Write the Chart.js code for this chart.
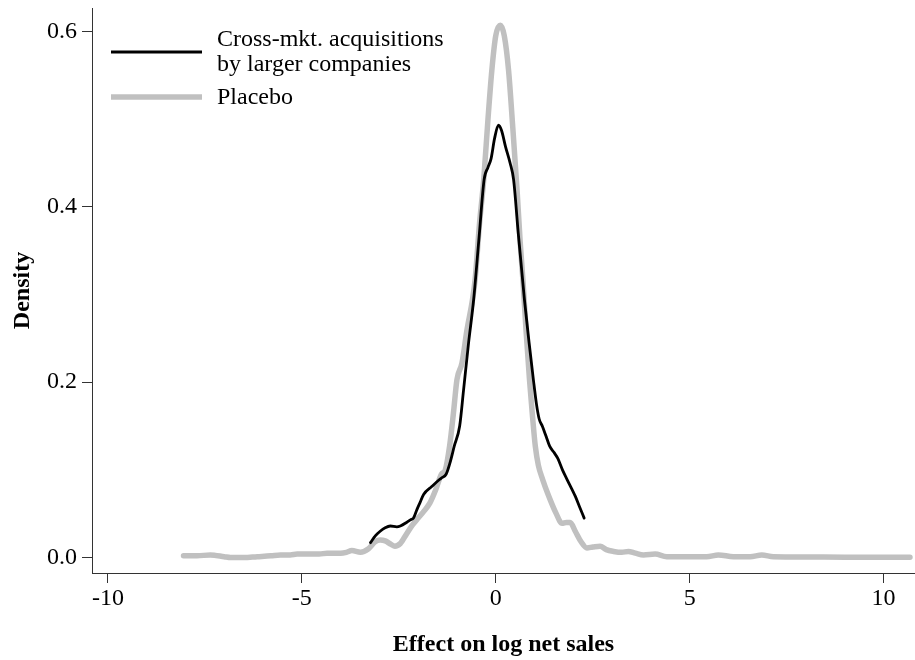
<!DOCTYPE html>
<html>
<head>
<meta charset="utf-8">
<title>Density of effect on log net sales</title>
<script src="https://cdn.jsdelivr.net/npm/chart.js@4.4.1/dist/chart.umd.min.js"></script>
<style>
  html, body { margin: 0; padding: 0; background: #fff; }
  #wrap { position: relative; width: 915px; height: 660px; }
</style>
</head>
<body>
<div id="wrap"><canvas id="densityChart"></canvas></div>
<script>
// kernel density, cross-market acquisitions by larger companies
const acqX = [-3.23, -3.10, -2.98, -2.85, -2.72, -2.55, -2.46, -2.30, -2.20, -2.12, -2.03, -1.95, -1.86,
  -1.65, -1.45, -1.39, -1.28, -1.18, -1.07, -0.93, -0.83, -0.70, -0.57, -0.43, -0.30, -0.20, -0.12,
  -0.03, 0.07, 0.15, 0.25, 0.37, 0.46, 0.58, 0.74, 0.86, 0.97, 1.05, 1.12, 1.20, 1.30, 1.39, 1.50,
  1.60, 1.72, 1.84, 2.05, 2.16, 2.28];
const acqY = [0.017, 0.025, 0.030, 0.034, 0.036, 0.035, 0.036, 0.040, 0.043, 0.045, 0.055, 0.063, 0.072,
  0.081, 0.089, 0.091, 0.095, 0.108, 0.127, 0.150, 0.191, 0.245, 0.294, 0.365, 0.431, 0.445, 0.455,
  0.478, 0.493, 0.487, 0.469, 0.450, 0.431, 0.370, 0.294, 0.245, 0.203, 0.175, 0.158, 0.150, 0.138,
  0.127, 0.120, 0.113, 0.100, 0.089, 0.070, 0.058, 0.045];

// kernel density, placebo
const placeboX = [-8.05, -7.70, -7.36, -7.00, -6.84, -6.50, -6.15, -5.80, -5.55, -5.30, -5.12, -4.78,
  -4.55, -4.35, -4.00, -3.85, -3.71, -3.49, -3.28, -3.11, -2.98, -2.85, -2.70, -2.60, -2.46, -2.30,
  -2.15, -2.00, -1.85, -1.70, -1.55, -1.40, -1.30, -1.19, -1.09, -1.00, -0.87, -0.74, -0.60, -0.53,
  -0.42, -0.31, -0.20, -0.10, 0.00, 0.12, 0.22, 0.33, 0.44, 0.55, 0.63, 0.70, 0.78, 0.87, 0.95,
  1.02, 1.10, 1.21, 1.35, 1.55, 1.71, 1.82, 1.92, 2.05, 2.20, 2.35, 2.50, 2.69, 2.85, 3.04, 3.25,
  3.42, 3.60, 3.81, 4.11, 4.41, 5.00, 5.44, 5.74, 6.13, 6.56, 6.86, 7.16, 8.00, 9.00, 10.00, 10.68];
const placeboY = [0.002, 0.002, 0.003, 0.001, 0.000, 0.000, 0.001, 0.002, 0.003, 0.003, 0.004, 0.004,
  0.004, 0.005, 0.005, 0.006, 0.008, 0.006, 0.010, 0.018, 0.020, 0.019, 0.015, 0.013, 0.016, 0.027,
  0.037, 0.045, 0.053, 0.062, 0.077, 0.095, 0.100, 0.127, 0.165, 0.203, 0.222, 0.260, 0.294, 0.318,
  0.380, 0.431, 0.500, 0.556, 0.595, 0.607, 0.595, 0.556, 0.490, 0.419, 0.360, 0.317, 0.260, 0.203,
  0.160, 0.127, 0.105, 0.089, 0.072, 0.051, 0.039, 0.040, 0.040, 0.030, 0.018, 0.011, 0.012, 0.013,
  0.009, 0.007, 0.006, 0.007, 0.005, 0.003, 0.004, 0.001, 0.001, 0.001, 0.003, 0.001, 0.001, 0.003,
  0.001, 0.0007, 0.0005, 0.0005, 0.0005];

const seriesNames = [["Cross-mkt. acquisitions", "by larger companies"], ["Placebo"]];
const xTicks = [-10, -5, 0, 5, 10];
const yTicks = [0, 0.2, 0.4, 0.6];

const FONT = "'Liberation Serif', 'DejaVu Serif', serif";
const pts = (xs, ys) => xs.map((x, i) => ({ x: x, y: ys[i] }));

// two-line legend in the upper left, drawn from the dataset styles
const serifLegend = {
  id: 'serifLegend',
  afterDraw(chart) {
    const ctx = chart.ctx;
    const rows = [{ y: 52, lines: [40, 65] }, { y: 97, lines: [98] }];
    ctx.save();
    chart.data.datasets.forEach((ds, i) => {
      const r = rows[i];
      ctx.strokeStyle = ds.borderColor;
      ctx.lineWidth = ds.borderWidth;
      ctx.beginPath();
      ctx.moveTo(111, r.y);
      ctx.lineTo(202, r.y);
      ctx.stroke();
      ctx.fillStyle = '#000';
      ctx.font = "24px " + FONT;
      ctx.textBaseline = 'middle';
      ctx.textAlign = 'left';
      seriesNames[i].forEach((t, j) => ctx.fillText(t, 217, r.lines[j]));
    });
    ctx.restore();
  }
};

// keep the plot frame where it is, whatever the tick label sizes
const noEdgePad = s => { s.paddingTop = 0; s.paddingBottom = 0; s.paddingLeft = 0; s.paddingRight = 0; };

new Chart(document.getElementById('densityChart'), {
  type: 'line',
  data: {
    datasets: [
      { label: seriesNames[0].join(' '), data: pts(acqX, acqY), borderColor: '#000000', borderWidth: 2.8 },
      { label: seriesNames[1][0], data: pts(placeboX, placeboY), borderColor: '#c0c0c0', borderWidth: 5.5 }
    ]
  },
  options: {
    responsive: true,
    maintainAspectRatio: false,
    animation: false,
    layout: { padding: { top: 8, right: 0, bottom: 0, left: 0 } },
    elements: {
      point: { radius: 0 },
      line: { cubicInterpolationMode: 'monotone', borderCapStyle: 'round', borderJoinStyle: 'round' }
    },
    plugins: { legend: { display: false }, tooltip: { enabled: false } },
    scales: {
      x: {
        type: 'linear',
        min: -10.41,
        max: 10.81,
        afterBuildTicks: s => { s.ticks = xTicks.map(v => ({ value: v })); },
        afterFit: s => { s.height = 87; noEdgePad(s); },
        grid: { drawOnChartArea: false, tickLength: 10, color: '#333' },
        border: { color: '#333', width: 1 },
        ticks: { color: '#000', padding: 1, maxRotation: 0, font: { family: FONT, size: 24 } },
        title: {
          display: true, text: 'Effect on log net sales', color: '#000',
          font: { family: FONT, size: 24, weight: 'bold' }, padding: { top: 0, bottom: 1 }
        }
      },
      y: {
        type: 'linear',
        min: -0.0176,
        max: 0.6267,
        afterBuildTicks: s => { s.ticks = yTicks.map(v => ({ value: v })); },
        afterFit: s => { s.width = 92; noEdgePad(s); },
        grid: { drawOnChartArea: false, tickLength: 10, color: '#333' },
        border: { color: '#333', width: 1 },
        ticks: { color: '#000', padding: 5, callback: v => v.toFixed(1), font: { family: FONT, size: 24 } },
        title: {
          display: true, text: 'Density', color: '#000',
          font: { family: FONT, size: 24, weight: 'bold' }, padding: { top: 8, bottom: 0 }
        }
      }
    }
  },
  plugins: [serifLegend]
});
</script>
</body>
</html>
